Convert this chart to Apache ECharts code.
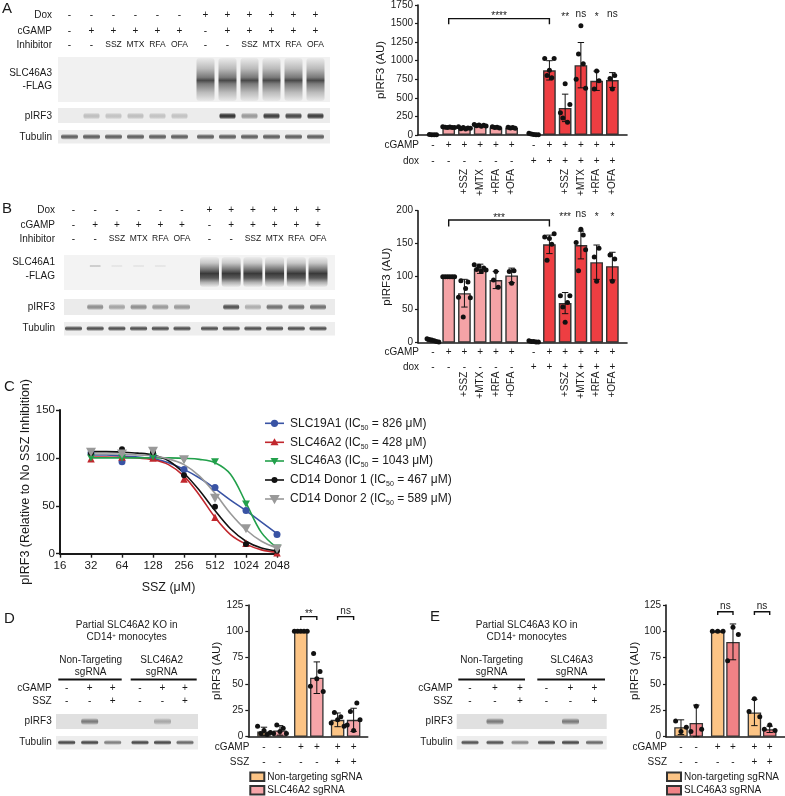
<!DOCTYPE html>
<html><head><meta charset="utf-8">
<script src="https://cdn.jsdelivr.net/npm/echarts@6/dist/echarts.min.js"></script>
<style>html,body{margin:0;padding:0;background:#fff}#c{width:785px;height:796px}</style>
</head><body><div id="c"></div><script>
const FONT = "'Liberation Sans', Arial, sans-serif";
const INK = '#1a1a1a';

// ===== Panel A : pIRF3 (AU), SLC46A3 =====
const aMean = [5, 105, 95, 128, 102, 95, 15, 870, 365, 940, 730, 740];
const aSD   = [5, 8, 12, 10, 8, 8, 8, 130, 185, 305, 130, 100];
const aDots = [
  [8, 5, 3, 2],
  [110, 104, 100, 108, 102, 100],
  [110, 85, 100, 80, 95, 90],
  [140, 125, 135, 118, 130, 120],
  [110, 100, 105, 95],
  [105, 95, 100, 90],
  [22, 12, 8, 5, 3],
  [1030, 800, 870, 770, 1030],
  [300, 230, 690, 170, 410],
  [750, 1090, 1470, 960, 630],
  [620, 860, 730],
  [760, 620, 800]
];
const aCgamp = ['-','+','+','+','+','+','-','+','+','+','+','+'];
const aDox   = ['-','-','-','-','-','-','+','+','+','+','+','+'];
const aDrug  = ['','','+SSZ','+MTX','+RFA','+OFA','','','+SSZ','+MTX','+RFA','+OFA'];
const aSig   = ['','','','','','','','','**','ns','*','ns'];
const aSigY  = 1626;
const aBracket = [[1, 7, 1567, 1492, '****']];

// ===== Panel B : pIRF3 (AU), SLC46A1 =====
const bMean = [3, 100, 75, 112, 95, 102, 2, 149, 60, 148, 122, 116];
const bSD   = [2, 0.5, 21, 7, 13, 11, 1.5, 14, 16, 21, 26, 21];
const bDots = [
  [6, 5, 4, 3, 2, 1],
  [100, 100, 100, 100, 100, 100],
  [69, 94, 39, 82, 92, 68],
  [118, 111, 116, 108, 113, 110],
  [95, 108, 84],
  [108, 90, 109],
  [3, 2, 2, 1, 1],
  [160, 125, 158, 149, 165],
  [71, 54, 31, 61, 71],
  [152, 109, 172, 163, 141],
  [130, 93, 143],
  [133, 93, 127]
];
const bCgamp = aCgamp, bDox = aDox, bDrug = aDrug;
const bSig   = ['','','','','','','','','***','ns','*','*'];
const bSigY  = 195;
const bBracket = [[1, 7, 186, 176, '***']];

// ===== Panel C : SSZ dose response =====
const cDose     = [32, 64, 128, 256, 512, 1024, 2048];
const cSLC19A1  = [105, 96, 102, 88, 69, 45, 20];
const cSLC46A2  = [99, 101, 100, 78, 38, 11, 1];
const cSLC46A3  = [100, 100, 101, 98, 96, 52, 6];
const cDonor1   = [105, 109, 106, 82, 49, 10, 3];
const cDonor2   = [106, 104, 107, 98, 58, 26, 5];
const cFitDose  = [32, 45, 64, 91, 128, 181, 256, 362, 512, 724, 1024, 1448, 2048];
const cFit19A1  = [103, 103, 102, 101, 99, 95, 88, 79, 68, 56, 45, 33, 21];
const cFit46A2  = [101, 101, 100.5, 100, 98, 93, 81, 61, 38, 20, 10, 4, 1.5];
const cFit46A3  = [100, 100, 100, 100, 100, 100, 99.5, 98.5, 95, 83, 53, 22, 6];
const cFitD1    = [106.5, 106.5, 106, 105, 103, 97, 84, 66, 45, 26, 13, 6, 3];
const cFitD2    = [104, 104, 104, 103, 102, 99, 93, 81, 63, 42, 25, 13, 6];
const cNames    = ['SLC19A1', 'SLC46A2', 'SLC46A3', 'CD14 Donor 1', 'CD14 Donor 2'];
const cIC50     = [826, 428, 1043, 467, 589];

// ===== Panel D : SLC46A2 KO =====
const dMean = [5, 6, 100, 56, 16, 16];
const dSD   = [4, 4.5, 0.5, 15, 6.5, 11];
const dDots = [[10, 3, 6, 2, 4], [3, 11, 5, 8, 3], [100, 100, 100, 100, 100], [48, 79, 55, 62, 43], [13, 23, 16, 19, 10], [11, 24, 6, 32, 16]];
const dCgamp = ['-','-','+','+','+','+'];
const dSSZ   = ['-','-','-','-','+','+'];
const dBracket = [[2, 3, 114, 110.8, '**'], [4, 5, 114, 110.8, 'ns']];

// ===== Panel E : SLC46A3 KO =====
const eMean = [9, 13, 100, 90, 23, 7];
const eSD   = [7, 17, 0.5, 17, 12.5, 3];
const eDots = [[15, 5, 9], [5, 29, 7], [100, 100, 100], [72, 104, 97], [24, 36, 19], [7, 11, 6]];
const eCgamp = dCgamp, eSSZ = dSSZ;
const eBracket = [[2, 3, 118.6, 115.4, 'ns'], [4, 5, 118.6, 115.4, 'ns']];

// ===== Blot annotations =====
const blotDox    = ['-','-','-','-','-','-','+','+','+','+','+','+'];
const blotCgamp  = ['-','+','+','+','+','+','-','+','+','+','+','+'];
const blotInhib  = ['-','-','SSZ','MTX','RFA','OFA','-','-','SSZ','MTX','RFA','OFA'];
const blotApIRF3 = [0, 0.22, 0.2, 0.22, 0.2, 0.2, 0, 0.9, 0.4, 0.85, 0.8, 0.85];
const blotAFlag  = [0, 0, 0, 0, 0, 0, 1, 1, 1, 1, 1, 1];
const blotBpIRF3 = [0, 0.45, 0.35, 0.45, 0.4, 0.4, 0, 0.75, 0.3, 0.6, 0.6, 0.6];
const blotBFlag  = [0, 0.2, 0.07, 0.07, 0.07, 0, 1, 1, 1, 1, 1, 1];
const blotKOcg   = ['-','+','+','-','+','+'];
const blotKOssz  = ['-','-','+','-','-','+'];
const blotDpIRF3 = [0, 0.5, 0, 0, 0.28, 0];
const blotDTub   = [0.75, 0.75, 0.5, 0.75, 0.75, 0.6];
const blotEpIRF3 = [0, 0.5, 0, 0, 0.5, 0];
const blotETub   = [0.7, 0.7, 0.45, 0.75, 0.75, 0.6];

// ---------------- helpers ----------------
const posAB = i => i + (i >= 6 ? 0.4 : 0);
const posD = i => Math.floor(i / 2) * 2.3 + (i % 2);
const posE = i => Math.floor(i / 2) * 2.4 + (i % 2);
const PINK = '#f5a3a6', RED = '#ee3e42', ORANGE = '#fcc485', PINK_D = '#f6a5a9', PINK_E = '#f08286';
const plain = v => String(v);

function xAx(k, min, max) {
  return {type: 'value', gridIndex: k, min, max,
    axisLine: {show: true, onZero: false, lineStyle: {color: INK, width: 1.6}},
    axisTick: {show: false}, axisLabel: {show: false}, splitLine: {show: false}};
}
function yAx(k, max, interval, name, nameGap, fs) {
  return {type: 'value', gridIndex: k, min: 0, max, interval,
    name, nameLocation: 'middle', nameGap,
    nameTextStyle: {fontSize: fs + 1.5, fontFamily: FONT, color: INK},
    axisLine: {show: true, onZero: false, lineStyle: {color: INK, width: 1.6}},
    axisTick: {show: true, inside: false, length: 3, lineStyle: {color: INK, width: 1.2}},
    axisLabel: {fontSize: fs, fontFamily: FONT, color: INK, margin: 5, formatter: plain},
    splitLine: {show: false}};
}
function errSeries(k, pos, mean, sd, cap) {
  return {type: 'custom', xAxisIndex: k, yAxisIndex: k, z: 4, silent: true,
    encode: {x: 0, y: [1, 2]},
    data: mean.map((m, i) => [pos(i), Math.max(0, m - sd[i]), m + sd[i]]),
    renderItem(p, api) {
      const x = api.value(0);
      const lo = api.coord([x, api.value(1)]), hi = api.coord([x, api.value(2)]);
      const st = {stroke: '#111', lineWidth: 1};
      return {type: 'group', children: [
        {type: 'line', shape: {x1: lo[0], y1: lo[1], x2: hi[0], y2: hi[1]}, style: st},
        {type: 'line', shape: {x1: hi[0] - cap, y1: hi[1], x2: hi[0] + cap, y2: hi[1]}, style: st},
        {type: 'line', shape: {x1: lo[0] - cap, y1: lo[1], x2: lo[0] + cap, y2: lo[1]}, style: st}]};
    }};
}
function dotSeries(k, pos, dots, step, size) {
  const data = [];
  dots.forEach((arr, i) => arr.forEach((v, j) => data.push([pos(i) + (j - (arr.length - 1) / 2) * step, v])));
  return {type: 'scatter', xAxisIndex: k, yAxisIndex: k, data, symbolSize: size,
    itemStyle: {color: '#111', opacity: 1}, z: 5, silent: true};
}
function rowSeries(k, pos, xmin, rows, fs) {
  const data = [];
  rows.forEach((r, ri) => {
    if (r.name) data.push([xmin, 0, ri, -1]);
    r.vals.forEach((v, i) => { if (v) data.push([pos(i), 0, ri, i]); });
  });
  return {type: 'custom', xAxisIndex: k, yAxisIndex: k, silent: true, z: 6,
    encode: {x: 0, y: 1}, data,
    renderItem(p, api) {
      const c = api.coord([api.value(0), api.value(1)]);
      const r = rows[api.value(2)], i = api.value(3);
      if (i < 0) return {type: 'text', x: c[0] + 1, y: c[1] + r.dy,
        style: {text: r.name, fontSize: fs, fontFamily: FONT, fill: INK, align: 'right', verticalAlign: 'middle'}};
      if (r.rot) return {type: 'text', x: c[0], y: c[1] + r.dy, rotation: Math.PI / 2,
        style: {text: r.vals[i], fontSize: fs, fontFamily: FONT, fill: INK, align: 'right', verticalAlign: 'middle'}};
      return {type: 'text', x: c[0], y: c[1] + r.dy,
        style: {text: r.vals[i], fontSize: fs, fontFamily: FONT, fill: INK, align: 'center', verticalAlign: 'middle'}};
    }};
}
function bracketSeries(k, pos, brackets, fs) {
  return {type: 'custom', xAxisIndex: k, yAxisIndex: k, silent: true, z: 6,
    encode: {x: [0, 1], y: [2, 3]},
    data: brackets.map((b, bi) => [pos(b[0]), pos(b[1]), b[2], b[3], bi]),
    renderItem(p, api) {
      const a = api.coord([api.value(0), api.value(2)]), b = api.coord([api.value(1), api.value(2)]);
      const leg = api.coord([api.value(0), api.value(3)]);
      const lbl = brackets[api.value(4)][4];
      const star = lbl.indexOf('*') >= 0;
      return {type: 'group', children: [
        {type: 'polyline', shape: {points: [[a[0], leg[1]], [a[0], a[1]], [b[0], b[1]], [b[0], leg[1]]]},
          style: {stroke: '#111', lineWidth: 1.4, fill: null}},
        {type: 'text', x: (a[0] + b[0]) / 2, y: a[1] + (star ? 3 : -0.5),
          style: {text: lbl, fontSize: fs, fontFamily: FONT, fill: INK, align: 'center', verticalAlign: 'bottom'}}]};
    }};
}
function sigSeries(k, pos, sig, y, fs) {
  const data = [];
  sig.forEach((s, i) => { if (s) data.push([pos(i), y, i]); });
  return {type: 'custom', xAxisIndex: k, yAxisIndex: k, silent: true, z: 6,
    encode: {x: 0, y: 1}, data,
    renderItem(p, api) {
      const c = api.coord([api.value(0), api.value(1)]);
      const s = sig[api.value(2)];
      return {type: 'text', x: c[0], y: c[1] + (s.indexOf('*') >= 0 ? 3 : 0),
        style: {text: s, fontSize: fs, fontFamily: FONT, fill: INK, align: 'center', verticalAlign: 'middle'}};
    }};
}
function barItems(mean, pos, colorFn) {
  return mean.map((v, i) => ({value: [pos(i), v], itemStyle: {color: colorFn(i)}}));
}

// ---------------- graphic (blots & labels) ----------------
const G = [];
function txt(x, y, s, o) {
  G.push({type: 'text', x, y, silent: true, z: 10,
    style: Object.assign({text: s, fontSize: 10, fontFamily: FONT, fill: INK, align: 'center', verticalAlign: 'middle'}, o || {})});
}
function box(x, y, w, h, fill) {
  G.push({type: 'rect', silent: true, z: 1, shape: {x, y, width: w, height: h}, style: {fill}});
}
function grad(stops) {
  return {type: 'linear', x: 0, y: 0, x2: 0, y2: 1, colorStops: stops.map(s => ({offset: s[0], color: 'rgba(25,25,25,' + s[1] + ')'}))};
}
function band(cx, cy, w, h, a) {
  if (a <= 0) return;
  G.push({type: 'rect', silent: true, z: 2, shape: {x: cx - w / 2, y: cy - h / 2, width: w, height: h, r: Math.min(h / 2, 3)},
    style: {fill: grad([[0, 0], [0.3, a * 0.8], [0.5, a], [0.7, a * 0.8], [1, 0]])}});
}
function smear(cx, top, w, h, stops) {
  G.push({type: 'rect', silent: true, z: 2, shape: {x: cx - w / 2, y: top, width: w, height: h, r: 3},
    style: {fill: grad(stops)}});
}
function hline(x1, x2, y, w) {
  G.push({type: 'line', silent: true, z: 3, shape: {x1, y1: y, x2, y2: y}, style: {stroke: '#111', lineWidth: w}});
}

// Panel letters
txt(2, 9, 'A', {fontSize: 15, align: 'left'});
txt(2, 209, 'B', {fontSize: 15, align: 'left'});
txt(4, 387, 'C', {fontSize: 15, align: 'left'});
txt(4, 619, 'D', {fontSize: 15, align: 'left'});
txt(430, 617, 'E', {fontSize: 15, align: 'left'});

// --- Blot A ---
(function () {
  const lane = i => (i < 6 ? 69.5 + 22 * i : 205.5 + 22 * (i - 6));
  const L = 52;
  txt(L, 15.5, 'Dox', {align: 'right'});
  txt(L, 31, 'cGAMP', {align: 'right'});
  txt(L, 45, 'Inhibitor', {align: 'right'});
  for (let i = 0; i < 12; i++) {
    txt(lane(i), 15.5, blotDox[i]);
    txt(lane(i), 31, blotCgamp[i]);
    txt(lane(i), 45, blotInhib[i], {fontSize: blotInhib[i].length > 1 ? 8.5 : 10});
  }
  box(58, 57, 272, 45, '#f1f1f1');
  txt(L, 73, 'SLC46A3', {align: 'right'});
  txt(L, 86, '-FLAG', {align: 'right'});
  for (let i = 0; i < 12; i++) if (blotAFlag[i]) {
    smear(lane(i), 58, 18, 43, [[0, 0.03], [0.25, 0.25], [0.45, 0.55], [0.52, 0.78], [0.6, 0.55], [0.8, 0.25], [1, 0.04]]);
  }
  box(58, 108, 272, 15, '#ececec');
  txt(L, 116, 'pIRF3', {align: 'right'});
  for (let i = 0; i < 12; i++) band(lane(i), 116, 16, 7, blotApIRF3[i]);
  box(58, 130, 272, 13.5, '#ededed');
  txt(L, 137, 'Tubulin', {align: 'right'});
  for (let i = 0; i < 12; i++) band(lane(i), 136.8, 17, 6, 0.68);
})();

// --- Blot B ---
(function () {
  const lane = i => (i < 6 ? 73.5 + 21.7 * i : 209.5 + 21.7 * (i - 6));
  const L = 55;
  txt(L, 210, 'Dox', {align: 'right'});
  txt(L, 225, 'cGAMP', {align: 'right'});
  txt(L, 239, 'Inhibitor', {align: 'right'});
  for (let i = 0; i < 12; i++) {
    txt(lane(i), 210, blotDox[i]);
    txt(lane(i), 225, blotCgamp[i]);
    txt(lane(i), 239, blotInhib[i], {fontSize: blotInhib[i].length > 1 ? 8.5 : 10});
  }
  box(64, 255, 271, 35, '#f3f3f3');
  txt(L, 262, 'SLC46A1', {align: 'right'});
  txt(L, 276, '-FLAG', {align: 'right'});
  for (let i = 0; i < 12; i++) {
    const a = blotBFlag[i];
    if (a >= 1) smear(lane(i), 257, 19, 30, [[0, 0.03], [0.2, 0.2], [0.4, 0.55], [0.55, 0.85], [0.7, 0.7], [0.85, 0.3], [1, 0.03]]);
    else if (a > 0) band(lane(i), 266, 11, 3, a);
  }
  box(64, 299, 271, 16, '#ebebeb');
  txt(L, 307, 'pIRF3', {align: 'right'});
  for (let i = 0; i < 12; i++) band(lane(i), 307, 16, 6.5, blotBpIRF3[i]);
  box(64, 322, 271, 13.5, '#eeeeee');
  txt(L, 328.5, 'Tubulin', {align: 'right'});
  for (let i = 0; i < 12; i++) band(lane(i), 328.5, 17, 5.5, 0.72);
})();

// --- Blot D / E ---
function koBlot(gene, lane, pI, tub, boxX, boxW, titleX, ntX, geneX, ul1, ul2, L) {
  txt(titleX, 625, 'Partial ' + gene + ' KO in', {fontSize: 10});
  G.push({type: 'text', x: titleX, y: 637.5, silent: true, z: 10, style: {
    text: '{a|CD14}{s|+}{a| monocytes}', align: 'center', verticalAlign: 'middle',
    rich: {a: {fontSize: 10, fontFamily: FONT, fill: INK}, s: {fontSize: 6, fontFamily: FONT, fill: INK, verticalAlign: 'top'}}}});
  txt(ntX, 660, 'Non-Targeting');
  txt(ntX, 672.5, 'sgRNA');
  txt(geneX, 660, gene);
  txt(geneX, 672.5, 'sgRNA');
  hline(ul1[0], ul1[1], 679.5, 2);
  hline(ul2[0], ul2[1], 679.5, 2);
  txt(L, 688.5, 'cGAMP', {align: 'right'});
  txt(L, 701, 'SSZ', {align: 'right'});
  for (let i = 0; i < 6; i++) {
    txt(lane(i), 688.5, blotKOcg[i]);
    txt(lane(i), 701, blotKOssz[i]);
  }
  box(boxX, 714, boxW, 15, '#e0e0e0');
  txt(L, 721.5, 'pIRF3', {align: 'right'});
  for (let i = 0; i < 6; i++) band(lane(i), 721.5, 17, 7, pI[i]);
  box(boxX, 736, boxW, 13.5, '#ededed');
  txt(L, 742.5, 'Tubulin', {align: 'right'});
  for (let i = 0; i < 6; i++) band(lane(i), 742.5, 17, 5, tub[i]);
}
koBlot('SLC46A2', i => (i < 3 ? 66.7 + 23 * i : 140 + 22.5 * (i - 3)), blotDpIRF3, blotDTub,
  56, 142, 126.7, 90.7, 161.7, [58.3, 121.7], [130.7, 196.7], 51.7);
koBlot('SLC46A3', i => (i < 3 ? 470 + 25 * i : 546.5 + 24 * (i - 3)), blotEpIRF3, blotETub,
  456.7, 150, 526.7, 491.7, 571.7, [458.3, 525], [537.3, 605], 452.7);

// --- Panel C legend (manual) ---
const cColors = ['#3953a4', '#c1272d', '#22a04b', '#111111', '#999999'];
const cLegY = [423.3, 442.3, 461, 480, 499];
function symShape(k, cx, cy) {
  const c = cColors[k];
  if (k === 0) return {type: 'circle', shape: {cx, cy, r: 3.6}, style: {fill: c}};
  if (k === 3) return {type: 'circle', shape: {cx, cy, r: 3}, style: {fill: c}};
  if (k === 1) return {type: 'polygon', shape: {points: [[cx, cy - 4], [cx - 4, cy + 3], [cx + 4, cy + 3]]}, style: {fill: c}};
  const s = k === 4 ? 5.2 : 4;
  return {type: 'polygon', shape: {points: [[cx - s, cy - s * 0.75], [cx + s, cy - s * 0.75], [cx, cy + s]]}, style: {fill: c}};
}
for (let k = 0; k < 5; k++) {
  const y = cLegY[k];
  G.push({type: 'line', silent: true, z: 5, shape: {x1: 265, y1: y, x2: 284, y2: y}, style: {stroke: cColors[k], lineWidth: 1.6}});
  G.push(Object.assign({silent: true, z: 6}, symShape(k, 274.5, y)));
  G.push({type: 'text', x: 290, y, silent: true, z: 6, style: {
    text: '{a|' + cNames[k] + ' (IC}{s|50}{a| = ' + cIC50[k] + ' μM)}', verticalAlign: 'middle', align: 'left',
    rich: {a: {fontSize: 12, fontFamily: FONT, fill: INK, lineHeight: 16},
           s: {fontSize: 7, fontFamily: FONT, fill: INK, lineHeight: 8, verticalAlign: 'bottom'}}}});
}

// ---------------- chart option ----------------
const cSym = ['circle', 'triangle', 'path://M0,0 L10,0 L5,9 Z', 'circle', 'path://M0,0 L10,0 L5,9 Z'];
const cSymSize = [7, 7.5, [8, 7], 6, [10, 9]];
const cPts = [cSLC19A1, cSLC46A2, cSLC46A3, cDonor1, cDonor2];
const cFits = [cFit19A1, cFit46A2, cFit46A3, cFitD1, cFitD2];

const series = [
  // A
  {type: 'bar', name: 'A', xAxisIndex: 0, yAxisIndex: 0, barWidth: 12.7, z: 2, silent: true,
    data: barItems(aMean, posAB, i => (i < 6 ? PINK : RED)), itemStyle: {borderColor: '#333', borderWidth: 1.4}},
  errSeries(0, posAB, aMean, aSD, 3.2),
  dotSeries(0, posAB, aDots, 0.15, 5),
  rowSeries(0, posAB, -0.95, [{vals: aCgamp, name: 'cGAMP', dy: 10.7}, {vals: aDox, name: 'dox', dy: 26}, {vals: aDrug, rot: true, dy: 34}], 10),
  bracketSeries(0, posAB, aBracket, 10),
  sigSeries(0, posAB, aSig, aSigY, 10),
  // B
  {type: 'bar', name: 'B', xAxisIndex: 1, yAxisIndex: 1, barWidth: 12.7, z: 2, silent: true,
    data: barItems(bMean, posAB, i => (i < 6 ? PINK : RED)), itemStyle: {borderColor: '#333', borderWidth: 1.4}},
  errSeries(1, posAB, bMean, bSD, 3.2),
  dotSeries(1, posAB, bDots, 0.15, 5),
  rowSeries(1, posAB, -0.95, [{vals: bCgamp, name: 'cGAMP', dy: 10}, {vals: bDox, name: 'dox', dy: 25}, {vals: bDrug, rot: true, dy: 29}], 10),
  bracketSeries(1, posAB, bBracket, 10),
  sigSeries(1, posAB, bSig, bSigY, 10),
  // D
  {type: 'bar', name: 'Non-targeting sgRNA', xAxisIndex: 3, yAxisIndex: 3, barWidth: 13.5, barGap: '-100%', z: 2, silent: true,
    data: dMean.map((v, i) => [posD(i), v]).filter((_, i) => i % 2 === 0), itemStyle: {color: ORANGE, borderColor: '#333', borderWidth: 1.3}},
  {type: 'bar', name: 'SLC46A2 sgRNA', xAxisIndex: 3, yAxisIndex: 3, barWidth: 13.5, barGap: '-100%', z: 2, silent: true,
    data: dMean.map((v, i) => [posD(i), v]).filter((_, i) => i % 2 === 1), itemStyle: {color: PINK_D, borderColor: '#333', borderWidth: 1.3}},
  errSeries(3, posD, dMean, dSD, 3.2),
  dotSeries(3, posD, dDots, 0.2, 5),
  rowSeries(3, posD, -0.98, [{vals: dCgamp, name: 'cGAMP', dy: 10.6}, {vals: dSSZ, name: 'SSZ', dy: 25.6}], 10),
  bracketSeries(3, posD, dBracket, 10),
  // E
  {type: 'bar', name: 'Non-targeting sgRNA', xAxisIndex: 4, yAxisIndex: 4, barWidth: 13.5, barGap: '-100%', z: 2, silent: true,
    data: eMean.map((v, i) => [posE(i), v]).filter((_, i) => i % 2 === 0), itemStyle: {color: ORANGE, borderColor: '#333', borderWidth: 1.3}},
  {type: 'bar', name: 'SLC46A3 sgRNA', xAxisIndex: 4, yAxisIndex: 4, barWidth: 13.5, barGap: '-100%', z: 2, silent: true,
    data: eMean.map((v, i) => [posE(i), v]).filter((_, i) => i % 2 === 1), itemStyle: {color: PINK_E, borderColor: '#333', borderWidth: 1.3}},
  errSeries(4, posE, eMean, eSD, 3.2),
  dotSeries(4, posE, eDots, 0.35, 5),
  rowSeries(4, posE, -0.98, [{vals: eCgamp, name: 'cGAMP', dy: 10.6}, {vals: eSSZ, name: 'SSZ', dy: 25.6}], 10),
  bracketSeries(4, posE, eBracket, 10)
];
// C
for (let k = 0; k < 5; k++) {
  series.push({type: 'line', xAxisIndex: 2, yAxisIndex: 2, smooth: 0.35, showSymbol: false, silent: true, z: 3,
    data: cFitDose.map((x, i) => [x, cFits[k][i]]), lineStyle: {color: cColors[k], width: 1.6}});
  series.push({type: 'scatter', xAxisIndex: 2, yAxisIndex: 2, silent: true, z: 4 + k,
    data: cDose.map((x, i) => [x, cPts[k][i]]), symbol: cSym[k], symbolSize: cSymSize[k],
    itemStyle: {color: cColors[k], opacity: 1}});
}

const option = {
  animation: false,
  backgroundColor: '#fff',
  textStyle: {fontFamily: FONT},
  grid: [
    {left: 418, top: 4, width: 209, height: 131},
    {left: 418, top: 210.7, width: 209, height: 132},
    {left: 60, top: 410, width: 217, height: 143.7},
    {left: 248.3, top: 605, width: 119.4, height: 131.7},
    {left: 666, top: 605, width: 119, height: 131.7}
  ],
  xAxis: [
    xAx(0, -0.95, 12.33),
    xAx(1, -0.95, 12.33),
    {type: 'log', logBase: 2, gridIndex: 2, min: 16, max: 2048, splitNumber: 7,
      name: 'SSZ (μM)', nameLocation: 'middle', nameGap: 27, nameTextStyle: {fontSize: 12.5, fontFamily: FONT, color: INK},
      axisLine: {show: true, onZero: false, lineStyle: {color: INK, width: 2}},
      axisTick: {show: true, length: 4, lineStyle: {color: INK, width: 1.4}},
      axisLabel: {fontSize: 11.5, fontFamily: FONT, color: INK, margin: 6, formatter: plain},
      splitLine: {show: false}, minorTick: {show: false}},
    xAx(3, -0.98, 6.48),
    xAx(4, -0.98, 6.8)
  ],
  yAxis: [
    yAx(0, 1750, 250, 'pIRF3 (AU)', 27, 10),
    yAx(1, 200, 50, 'pIRF3 (AU)', 19, 10),
    Object.assign(yAx(2, 150, 50, 'pIRF3 (Relative to No SSZ Inhibition)', 26, 11.5),
      {axisLine: {show: true, lineStyle: {color: INK, width: 2}}, axisTick: {show: true, length: 4, lineStyle: {color: INK, width: 1.4}},
       nameTextStyle: {fontSize: 12.5, fontFamily: FONT, color: INK}}),
    yAx(3, 125, 25, 'pIRF3 (AU)', 20, 10),
    yAx(4, 125, 25, 'pIRF3 (AU)', 19, 10)
  ],
  legend: [
    {left: 249.3, top: 771.5, orient: 'vertical', itemWidth: 14, itemHeight: 8.5, itemGap: 3, icon: 'rect', padding: 0,
      selectedMode: false, data: ['Non-targeting sgRNA', 'SLC46A2 sgRNA'], textStyle: {fontSize: 10, fontFamily: FONT, color: INK, padding: [0, 0, 0, -2]}},
    {left: 666, top: 771.5, orient: 'vertical', itemWidth: 14, itemHeight: 8.5, itemGap: 3, icon: 'rect', padding: 0,
      selectedMode: false, data: ['Non-targeting sgRNA', 'SLC46A3 sgRNA'], textStyle: {fontSize: 10, fontFamily: FONT, color: INK, padding: [0, 0, 0, -2]}}
  ],
  graphic: G,
  series
};
const chart = echarts.init(document.getElementById('c'), null, {renderer: 'canvas', width: 785, height: 796});
chart.setOption(option);
</script></body></html>
